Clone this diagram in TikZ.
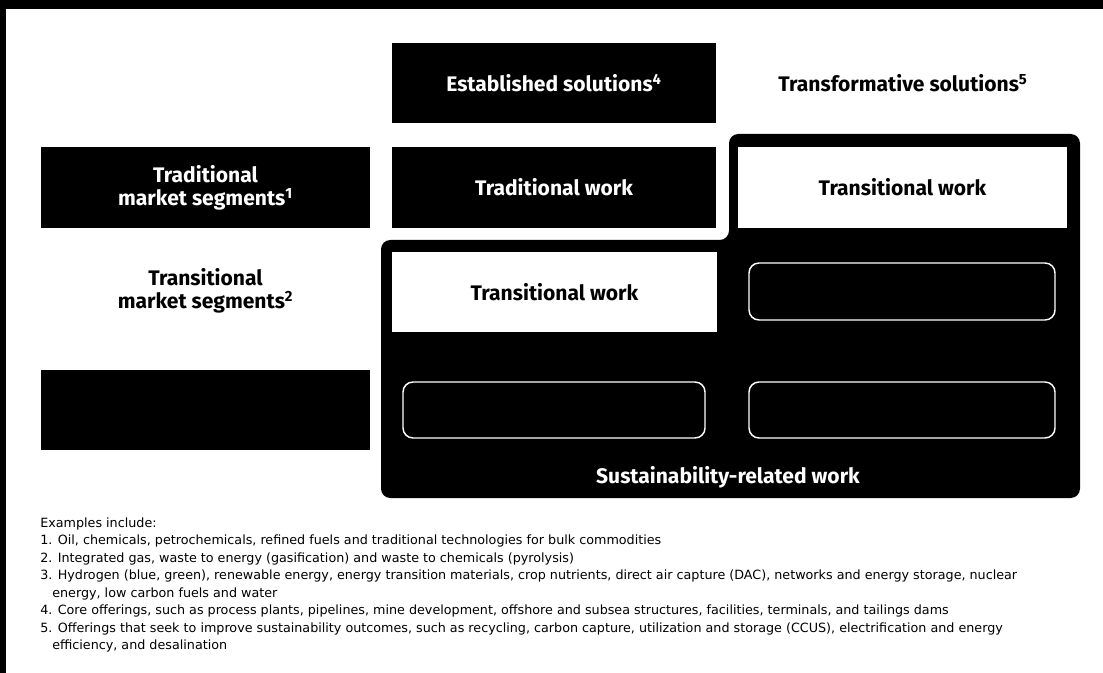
\documentclass[tikz,border=0pt]{standalone}
\usepackage{fontspec}
\setmainfont{DejaVu Sans}
\newfontfamily\headfont{Fira Sans}
\begin{document}
\begin{tikzpicture}[x=0.75pt,y=-0.75pt,
  hfont/.style={font=\headfont\bfseries\fontsize{15.8}{17.5}\selectfont},
  blk/.style={fill=black,text=white,inner sep=0pt,align=center,hfont},
  wht/.style={fill=white,text=black,inner sep=0pt,align=center,hfont},
  hollow/.style={draw=white,line width=1.1pt,rounded corners=7.5pt,inner sep=0pt},
  lbl/.style={inner sep=0pt,align=center,hfont},
  note/.style={anchor=base west,inner sep=0pt,font=\fontsize{9.55}{13.3}\selectfont}]
\useasboundingbox (0,0) rectangle (1103,673);
\fill[white] (0,0) rectangle (1103,673);
\fill[black] (0,0) rectangle (1103,9);
\fill[black] (0,0) rectangle (6,673);
% sustainability-related region
\fill[black,rounded corners=7pt] (381,240) -- (729,240) -- (729,134) -- (1080,134) -- (1080,498) -- (381,498) -- cycle;
% column headers
\node[blk,minimum width=243pt,minimum height=60pt] (est) at (554,83) {Established solutions\textsuperscript{4}};
\node[lbl] (trf) at (903,83) {Transformative solutions\textsuperscript{5}};
% row headers
\node[blk,minimum width=246.75pt,minimum height=60.75pt] (tms) at (205.5,187.5) {Traditional\\market segments\textsuperscript{1}};
\node[lbl] (trms) at (205.5,291) {Transitional\\market segments\textsuperscript{2}};
\node[blk,minimum width=246.75pt,minimum height=60pt] (blb) at (205.5,410) {};
% cells
\node[blk,minimum width=243pt,minimum height=60.75pt] (tw) at (554,187.5) {Traditional work};
\node[wht,minimum width=246.75pt,minimum height=60.75pt] (trw1) at (902.5,187.5) {Transitional work};
\node[wht,minimum width=243.75pt,minimum height=60pt] (trw2) at (554.5,292) {Transitional work};
\node[hollow,minimum width=229.5pt,minimum height=42.75pt] (o1) at (902,291.5) {};
\node[hollow,minimum width=226.5pt,minimum height=42pt] (o2) at (554,410) {};
\node[hollow,minimum width=229.5pt,minimum height=42pt] (o3) at (902,410) {};
\node[lbl,text=white] (srw) at (728,477) {Sustainability-related work};
% footnotes
\node[note] (n0) at (40,527) {Examples include:};
\node[note] (n1) at (40,544.5) {1. Oil, chemicals, petrochemicals, refined fuels and traditional technologies for bulk commodities};
\node[note] (n2) at (40,562) {2. Integrated gas, waste to energy (gasification) and waste to chemicals (pyrolysis)};
\node[note] (n3) at (40,579.5) {3. Hydrogen (blue, green), renewable energy, energy transition materials, crop nutrients, direct air capture (DAC), networks and energy storage, nuclear};
\node[note] (n3b) at (52,597) {energy, low carbon fuels and water};
\node[note] (n4) at (40,614.5) {4. Core offerings, such as process plants, pipelines, mine development, offshore and subsea structures, facilities, terminals, and tailings dams};
\node[note] (n5) at (40,632) {5. Offerings that seek to improve sustainability outcomes, such as recycling, carbon capture, utilization and storage (CCUS), electrification and energy};
\node[note] (n5b) at (52,649.5) {efficiency, and desalination};
\end{tikzpicture}
\end{document}
